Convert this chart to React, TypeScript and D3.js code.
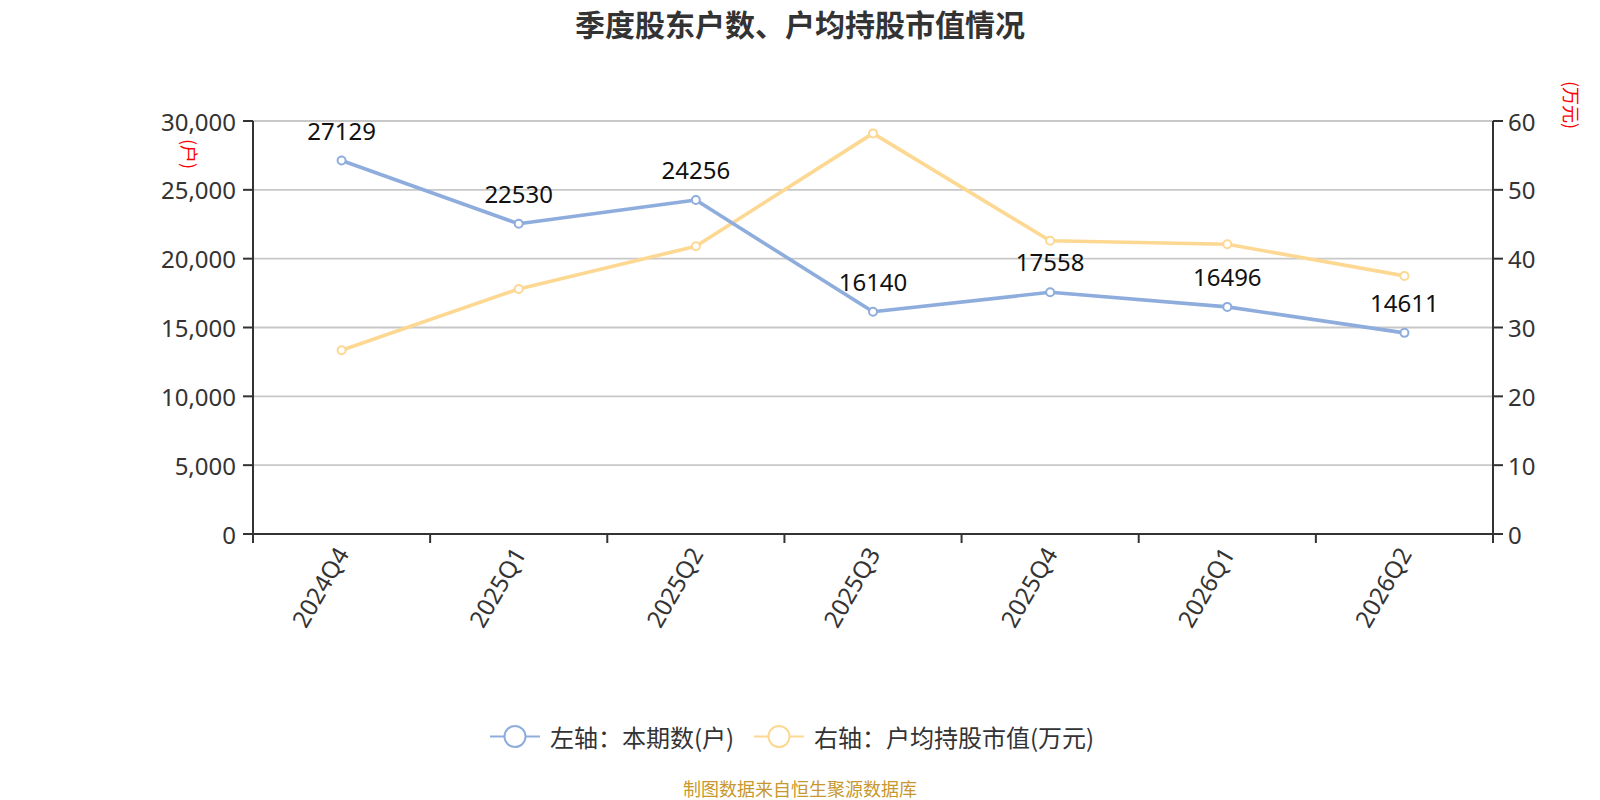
import React from "react";
import * as d3 from "d3";

const categories = ["2024Q4", "2025Q1", "2025Q2", "2025Q3", "2025Q4", "2026Q1", "2026Q2"];
const holders = [27129, 22530, 24256, 16140, 17558, 16496, 14611];
const avgValue = [26.7, 35.6, 41.8, 58.2, 42.6, 42.1, 37.5];
const leftTicks = [0, 5000, 10000, 15000, 20000, 25000, 30000];
const rightTicks = [0, 10, 20, 30, 40, 50, 60];
const legendNames = ["左轴：本期数(户)", "右轴：户均持股市值(万元)"];
const title = "季度股东户数、户均持股市值情况";
const footer = "制图数据来自恒生聚源数据库";

const W = 1600;
const H = 800;
const M = { left: 253, right: 1493, top: 121, bottom: 534 };
const BLUE = "#8eaddd";
const YELLOW = "#fdd893";
const FONT = '"Noto Sans", "Noto Sans CJK SC", sans-serif';
const CJK = '"Noto Sans CJK SC", "Noto Sans", sans-serif';

export default function App() {
  const x = d3.scaleBand<string>().domain(categories).range([M.left, M.right]).paddingInner(0).paddingOuter(0);
  const yL = d3.scaleLinear().domain([0, 30000]).range([M.bottom, M.top]);
  const yR = d3.scaleLinear().domain([0, 60]).range([M.bottom, M.top]);
  const cx = (c: string) => (x(c) as number) + x.bandwidth() / 2;
  const fmt = d3.format(",");

  const lineL = d3.line<number>().x((_, i) => cx(categories[i])).y((d) => yL(d));
  const lineR = d3.line<number>().x((_, i) => cx(categories[i])).y((d) => yR(d));
  const boundaries = categories.map((c) => x(c) as number).concat([M.right]);

  const legendItems = [
    { name: legendNames[0], color: BLUE, x0: 490, tx: 550 },
    { name: legendNames[1], color: YELLOW, x0: 754, tx: 814 },
  ];

  return (
    <div style={{ position: "fixed", left: 0, top: 0, width: W, height: H, background: "#fff" }}>
      <svg width={W} height={H} style={{ display: "block" }}>
        <text x={800} y={23} textAnchor="middle" dominantBaseline="central" fontFamily={CJK} fontWeight="bold" fontSize={30} fill="#333">
          {title}
        </text>

        {/* grid */}
        {leftTicks.map((t) => (
          <line key={"g" + t} x1={M.left} x2={M.right} y1={yL(t)} y2={yL(t)} stroke="#c8c8c8" strokeWidth={1.8} />
        ))}

        {/* left axis */}
        <line x1={M.left} x2={M.left} y1={M.top} y2={M.bottom} stroke="#333" strokeWidth={2} />
        {leftTicks.map((t) => (
          <g key={"l" + t}>
            <line x1={M.left - 10} x2={M.left} y1={yL(t)} y2={yL(t)} stroke="#333" strokeWidth={2} />
            <text x={M.left - 17} y={yL(t)} textAnchor="end" dominantBaseline="central" fontFamily={FONT} fontSize={24} fill="#333">
              {fmt(t)}
            </text>
          </g>
        ))}

        {/* right axis */}
        <line x1={M.right} x2={M.right} y1={M.top} y2={M.bottom} stroke="#333" strokeWidth={2} />
        {rightTicks.map((t) => (
          <g key={"r" + t}>
            <line x1={M.right} x2={M.right + 10} y1={yR(t)} y2={yR(t)} stroke="#333" strokeWidth={2} />
            <text x={M.right + 15} y={yR(t)} textAnchor="start" dominantBaseline="central" fontFamily={FONT} fontSize={24} fill="#333">
              {t}
            </text>
          </g>
        ))}

        {/* x axis */}
        <line x1={M.left} x2={M.right} y1={M.bottom} y2={M.bottom} stroke="#333" strokeWidth={2} />
        {boundaries.map((b, i) => (
          <line key={"xt" + i} x1={b} x2={b} y1={M.bottom} y2={M.bottom + 9} stroke="#333" strokeWidth={2} />
        ))}
        {categories.map((c) => (
          <text
            key={"xl" + c}
            transform={`translate(${cx(c)},${M.bottom + 15}) rotate(-60)`}
            textAnchor="end"
            dominantBaseline="central"
            fontFamily={FONT}
            fontSize={24}
            fill="#333"
          >
            {c}
          </text>
        ))}

        {/* unit labels */}
        <text transform="translate(190,154) rotate(90)" textAnchor="middle" dominantBaseline="central" fontFamily={CJK} fontSize={18} fill="#ff0000">
          (户)
        </text>
        <text transform="translate(1572,105) rotate(90)" textAnchor="middle" dominantBaseline="central" fontFamily={CJK} fontSize={18} fill="#ff0000">
          (万元)
        </text>

        {/* series lines */}
        <path d={lineR(avgValue) || ""} fill="none" stroke={YELLOW} strokeWidth={3.6} strokeLinejoin="round" />
        <path d={lineL(holders) || ""} fill="none" stroke={BLUE} strokeWidth={3.6} strokeLinejoin="round" />
        {avgValue.map((v, i) => (
          <circle key={"pr" + i} cx={cx(categories[i])} cy={yR(v)} r={4} fill="#fff" stroke={YELLOW} strokeWidth={2} />
        ))}
        {holders.map((v, i) => (
          <circle key={"pl" + i} cx={cx(categories[i])} cy={yL(v)} r={4} fill="#fff" stroke={BLUE} strokeWidth={2} />
        ))}
        {holders.map((v, i) => (
          <text key={"dl" + i} x={cx(categories[i])} y={yL(v) - 21} textAnchor="middle" fontFamily={FONT} fontSize={24} fill="#111">
            {v}
          </text>
        ))}

        {/* legend */}
        {legendItems.map((it) => (
          <g key={it.name}>
            <line x1={it.x0} x2={it.x0 + 50} y1={736.5} y2={736.5} stroke={it.color} strokeWidth={2} />
            <circle cx={it.x0 + 25} cy={736.5} r={10.5} fill="#fff" stroke={it.color} strokeWidth={2} />
            <text x={it.tx} y={736} dominantBaseline="central" fontFamily={CJK} fontSize={24} fill="#333">
              {it.name}
            </text>
          </g>
        ))}

        <text x={800} y={788} textAnchor="middle" dominantBaseline="central" fontFamily={CJK} fontSize={18} fill="#c8982f">
          {footer}
        </text>
      </svg>
    </div>
  );
}
